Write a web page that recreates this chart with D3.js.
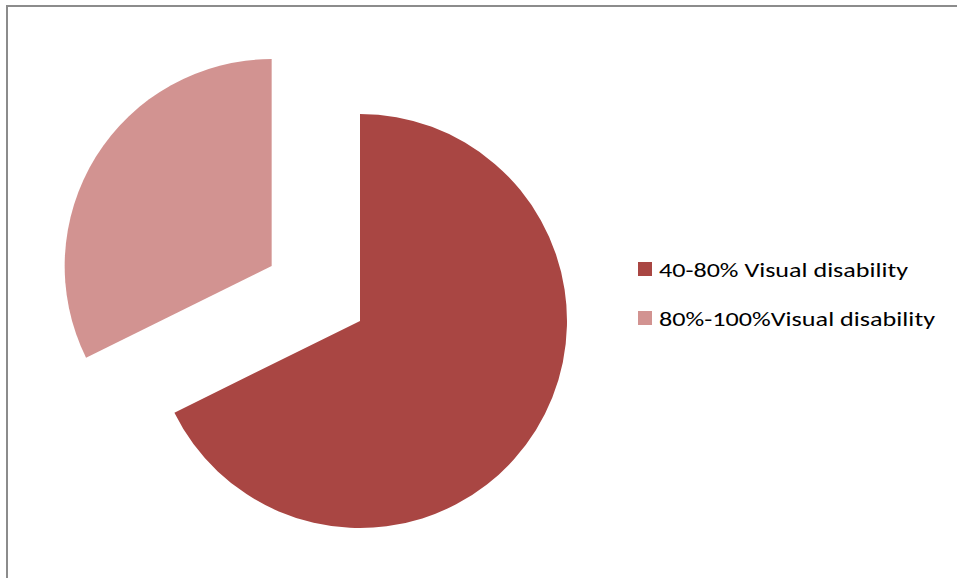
<!DOCTYPE html>
<html>
<head>
<meta charset="utf-8">
<script src="https://cdn.jsdelivr.net/npm/d3@7"></script>
<style>
  body { margin: 0; background: #fff; }
  svg { display: block; }
</style>
</head>
<body>
<div id="chart"></div>
<script>
// data
const categories = ['40-80% Visual disability', '80%-100%Visual disability'];
const values = [67.7, 32.3];
const colors = ['#A94643', '#D29391'];
const exploded = [0, 104];

const width = 957, height = 578;
const cx = 360, cy = 321, radius = 207;

const svg = d3.select('#chart').append('svg')
    .attr('width', width)
    .attr('height', height);

// chart border (runs off the right and bottom edge)
svg.append('rect')
    .attr('x', 7).attr('y', 6)
    .attr('width', 980).attr('height', 600)
    .attr('fill', 'none')
    .attr('stroke', '#8c8c8c')
    .attr('stroke-width', 2);

const pie = d3.pie().sort(null).value(d => d);
const arc = d3.arc().innerRadius(0).outerRadius(radius);
const arcs = pie(values);

svg.append('g')
    .attr('transform', `translate(${cx},${cy})`)
    .selectAll('path')
    .data(arcs)
    .enter().append('path')
    .attr('d', arc)
    .attr('fill', (d, i) => colors[i])
    .attr('transform', (d, i) => {
        const a = (d.startAngle + d.endAngle) / 2;
        const off = exploded[i];
        return `translate(${off * Math.sin(a)},${-off * Math.cos(a)})`;
    });

// legend
const legend = svg.append('g').attr('transform', 'translate(638,262)');
const textWidths = [249, 276];
const item = legend.selectAll('g')
    .data(categories)
    .enter().append('g')
    .attr('transform', (d, i) => `translate(0,${i * 49})`);

item.append('rect')
    .attr('width', 14).attr('height', 14)
    .attr('fill', (d, i) => colors[i]);

item.append('text')
    .attr('x', 21)
    .attr('y', 15)
    .attr('textLength', (d, i) => textWidths[i])
    .attr('lengthAdjust', 'spacingAndGlyphs')
    .style('font-family', 'Carlito, Calibri, "Open Sans", sans-serif')
    .style('font-size', '21px')
    .style('fill', '#000')
    .text(d => d);
</script>
</body>
</html>
